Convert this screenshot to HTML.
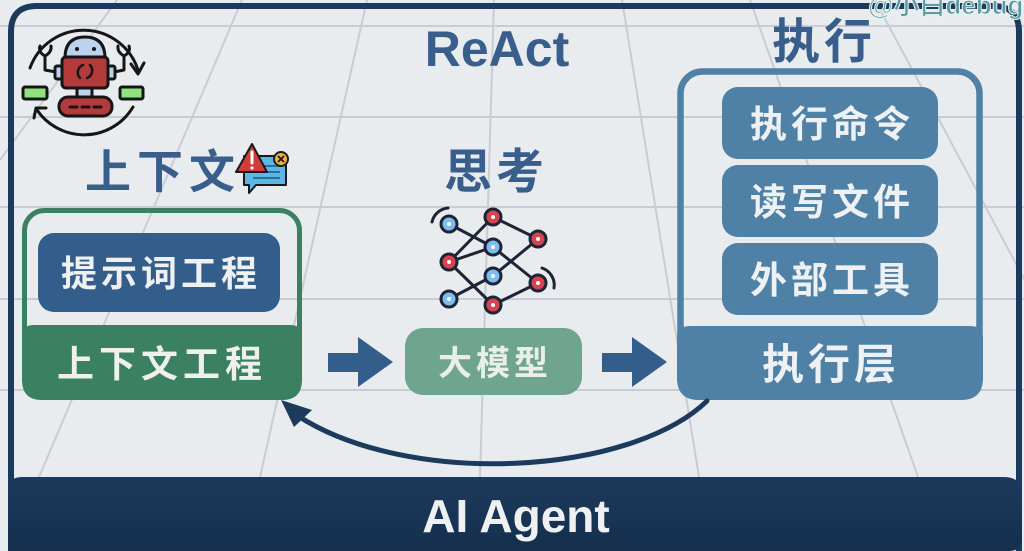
<!DOCTYPE html>
<html><head><meta charset="utf-8">
<style>
html,body{margin:0;padding:0;background:#e9ecef;}
svg{display:block;}
.cjk{font-family:"Liberation Sans","Noto Sans CJK SC",sans-serif;font-weight:700;}
.lat{font-family:"Liberation Sans",sans-serif;font-weight:700;}
</style></head><body>
<svg width="1024" height="551" viewBox="0 0 1024 551" xmlns="http://www.w3.org/2000/svg">
<defs>
<linearGradient id="bar" x1="0" y1="0" x2="0" y2="1">
<stop offset="0" stop-color="#1c3a5c"/><stop offset="1" stop-color="#152f4d"/>
</linearGradient>
</defs>
<rect width="1024" height="551" fill="#e9ecef"/>
<!-- grid -->
<g stroke="#c9ccd1" stroke-width="2" fill="none">
<line x1="0" y1="26" x2="1024" y2="26"/>
<line x1="0" y1="117" x2="1024" y2="117"/>
<line x1="0" y1="207" x2="1024" y2="207"/>
<line x1="0" y1="299" x2="1024" y2="299"/>
<line x1="0" y1="390" x2="1024" y2="390"/>
<line x1="117" y1="0" x2="0" y2="160"/>
<line x1="242" y1="0" x2="39" y2="477"/>
<line x1="367" y1="0" x2="260" y2="477"/>
<line x1="494" y1="0" x2="480" y2="477"/>
<line x1="622" y1="0" x2="699" y2="477"/>
<line x1="750" y1="0" x2="918" y2="477"/>
<line x1="875" y1="0" x2="1030" y2="290"/>
</g>
<!-- frame -->
<path d="M11 551 L11 32 Q11 6 37 6 L993 6 Q1019 6 1019 32 L1019 551" fill="none" stroke="#1b3a5c" stroke-width="6"/>
<!-- bottom bar -->
<path d="M8 490 Q8 477 22 477 L1004 477 Q1022 477 1022 495 L1022 538 Q1022 551 1009 551 L8 551 Z" fill="url(#bar)"/>
<text x="516" y="532" class="lat" font-size="46" fill="#eef0f2" text-anchor="middle">AI Agent</text>

<!-- watermark -->
<text x="868" y="14" class="cjk" font-size="26" fill="#5c9aa4" stroke="#e9f2f3" stroke-width="1">@小白debug</text>

<!-- titles -->
<text x="497" y="66" class="lat" font-size="50" fill="#3a5e8c" text-anchor="middle">ReAct</text>
<text x="824" y="58" class="cjk" font-size="48" fill="#3a5e8c" text-anchor="middle" letter-spacing="4">执行</text>
<text x="496" y="188" class="cjk" font-size="48" fill="#3a5e8c" text-anchor="middle" letter-spacing="4">思考</text>
<text x="163" y="188" class="cjk" font-size="46" fill="#3a5e8c" text-anchor="middle" letter-spacing="6">上下文</text>

<!-- robot icon -->
<g stroke="#161616" stroke-width="3" stroke-linecap="round" stroke-linejoin="round">
<path d="M30 68 A57 57 0 0 1 138 70" fill="none"/>
<path d="M131 64 L138 74 L144 63" fill="none"/>
<path d="M133 107 A57 57 0 0 1 37 110" fill="none"/>
<path d="M34 118 L36 108 L46 108" fill="none"/>
<rect x="23" y="87" width="24" height="12" rx="2" fill="#8fe27e"/>
<rect x="120" y="87" width="23" height="12" rx="2" fill="#8fe27e"/>
<path d="M56 72 L45 70 L45 56 M45 56 Q38 52 40 46 M45 56 Q52 52 51 46" fill="none"/>
<path d="M114 72 L124 70 L124 56 M124 56 Q117 52 118 46 M124 56 Q131 52 129 46" fill="none"/>
<path d="M65 58 Q65 37 85 37 Q105 37 105 58 Z" fill="#bcd3ee"/>
<rect x="55" y="66" width="8" height="13" rx="2" fill="#bcd3ee"/>
<rect x="107" y="66" width="8" height="13" rx="2" fill="#bcd3ee"/>
<rect x="77" y="87" width="15" height="11" fill="#bcd3ee"/>
<rect x="62" y="57" width="46" height="31" rx="4" fill="#b33b3b"/>
<rect x="59" y="97" width="53" height="19" rx="9" fill="#b33b3b"/>
<path d="M70 107 L77 107 M82 107 L89 107 M94 107 L101 107" fill="none"/>
<path d="M80 78 A8 8 0 0 1 83 65" fill="none" stroke-width="2.5"/>
<path d="M90 65 A8 8 0 0 1 87 78" fill="none" stroke-width="2.5"/>
</g>
<circle cx="77" cy="49" r="2" fill="#161616"/>
<circle cx="94" cy="49" r="2" fill="#161616"/>

<!-- warning/chat icon -->
<g stroke="#1a1a1a" stroke-width="2" stroke-linejoin="round">
<path d="M244 156 L286 156 L286 185 L256 185 L249 193 L249 185 L244 185 Z" fill="#5cb6e6"/>
<path d="M259 166 L280 166 M259 172 L280 172 M253 178 L280 178" stroke="#2a6f99" stroke-width="2"/>
<path d="M252 144 L267 172 L236 172 Z" fill="#d33b3b"/>
<circle cx="281" cy="159" r="7" fill="#f0b23c"/>
<path d="M278 156 L284 162 M284 156 L278 162" stroke-width="1.8"/>
</g>
<path d="M252 152 L252 163" stroke="#fff" stroke-width="3" stroke-linecap="round"/>
<circle cx="252" cy="168" r="1.6" fill="#fff"/>

<!-- neural net icon -->
<g stroke="#1d2436" stroke-width="3" fill="none" stroke-linecap="round">
<line x1="449" y1="224" x2="493" y2="247"/>
<line x1="449" y1="262" x2="493" y2="217"/>
<line x1="449" y1="262" x2="493" y2="247"/>
<line x1="449" y1="262" x2="493" y2="305"/>
<line x1="449" y1="299" x2="493" y2="276"/>
<line x1="493" y1="217" x2="538" y2="239"/>
<line x1="493" y1="247" x2="538" y2="283"/>
<line x1="493" y1="276" x2="538" y2="239"/>
<line x1="493" y1="305" x2="538" y2="283"/>
<path d="M432 222 A18 18 0 0 1 448 208"/>
<path d="M542 268 A18 18 0 0 1 554 288"/>
</g>
<g stroke="#1d2436" stroke-width="3">
<circle cx="449" cy="224" r="8" fill="#7cbcef"/>
<circle cx="493" cy="217" r="8" fill="#d9434f"/>
<circle cx="538" cy="239" r="8" fill="#d9434f"/>
<circle cx="493" cy="247" r="8" fill="#7cbcef"/>
<circle cx="449" cy="262" r="8" fill="#d9434f"/>
<circle cx="493" cy="276" r="8" fill="#7cbcef"/>
<circle cx="538" cy="283" r="8" fill="#d9434f"/>
<circle cx="449" cy="299" r="8" fill="#7cbcef"/>
<circle cx="493" cy="305" r="8" fill="#d9434f"/>
</g>
<g fill="#fff">
<circle cx="449" cy="224" r="2"/><circle cx="493" cy="217" r="2"/><circle cx="538" cy="239" r="2"/>
<circle cx="493" cy="247" r="2"/><circle cx="449" cy="262" r="2"/><circle cx="493" cy="276" r="2"/>
<circle cx="538" cy="283" r="2"/><circle cx="449" cy="299" r="2"/><circle cx="493" cy="305" r="2"/>
</g>

<!-- left container -->
<rect x="24.5" y="210.5" width="275" height="187" rx="20" fill="none" stroke="#3a8061" stroke-width="5"/>
<path d="M22 336 Q22 325 34 325 L290 325 Q302 325 302 336 L302 380 Q302 400 282 400 L42 400 Q22 400 22 380 Z" fill="#3a8061"/>
<rect x="38" y="233" width="242" height="79" rx="16" fill="#335e8b"/>
<text x="161" y="286" class="cjk" font-size="36" fill="#eef0f2" text-anchor="middle" letter-spacing="4">提示词工程</text>
<text x="162" y="377" class="cjk" font-size="37" fill="#eef0ee" text-anchor="middle" letter-spacing="5">上下文工程</text>

<!-- arrows -->
<path d="M328 353 L358 353 L358 337 L393 362 L358 387 L358 372 L328 372 Z" fill="#335e8b"/>
<path d="M602 353 L632 353 L632 337 L667 362 L632 387 L632 372 L602 372 Z" fill="#335e8b"/>

<!-- model box -->
<rect x="405" y="328" width="177" height="67" rx="18" fill="#6fa58e"/>
<text x="495" y="375" class="cjk" font-size="34" fill="#e9eeea" text-anchor="middle" letter-spacing="4">大模型</text>

<!-- right container -->
<rect x="680.5" y="71.5" width="299" height="325" rx="22" fill="none" stroke="#4f80a6" stroke-width="6.5"/>
<path d="M677 338 Q677 326 690 326 L970 326 Q983 326 983 338 L983 378 Q983 400 961 400 L699 400 Q677 400 677 378 Z" fill="#4f80a6"/>
<rect x="722" y="87" width="216" height="72" rx="16" fill="#4f80a6"/>
<rect x="722" y="165" width="216" height="72" rx="16" fill="#4f80a6"/>
<rect x="722" y="243" width="216" height="72" rx="16" fill="#4f80a6"/>
<text x="832" y="137" class="cjk" font-size="37" fill="#eef1f4" text-anchor="middle" letter-spacing="4">执行命令</text>
<text x="832" y="215" class="cjk" font-size="37" fill="#eef1f4" text-anchor="middle" letter-spacing="4">读写文件</text>
<text x="832" y="293" class="cjk" font-size="37" fill="#eef1f4" text-anchor="middle" letter-spacing="4">外部工具</text>
<text x="831" y="379" class="cjk" font-size="42" fill="#eef1f4" text-anchor="middle" letter-spacing="4">执行层</text>

<!-- curved feedback arrow -->
<path d="M707 401 C630 475, 410 488, 298 416" fill="none" stroke="#1b3a5c" stroke-width="5" stroke-linecap="round"/>
<path d="M281 400 L312 410 L294 427 Z" fill="#1b3a5c"/>
</svg>
</body></html>
